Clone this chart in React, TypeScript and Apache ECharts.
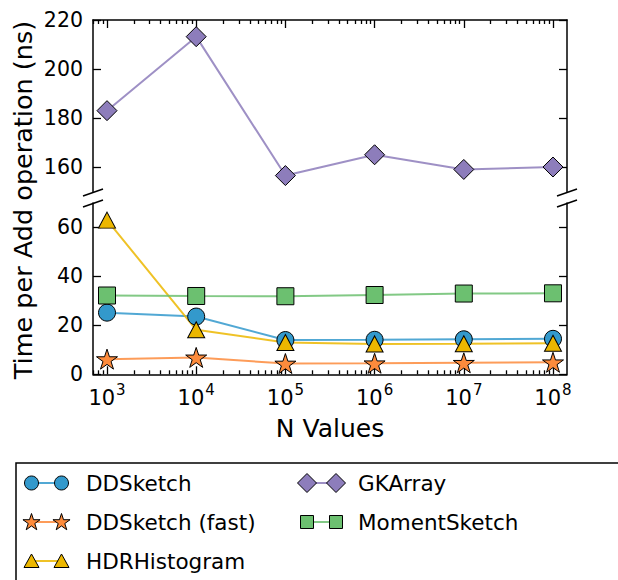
import React, { useEffect, useRef } from "react";
import * as echarts from "echarts";

// ---- data ----
const nValues = [1e3, 1e4, 1e5, 1e6, 1e7, 1e8];
const ddsketch = [25.2, 23.6, 14.0, 14.1, 14.3, 14.5];
const ddsketchFast = [6.2, 6.9, 4.4, 4.5, 4.7, 4.9];
const hdrHistogram = [63, 18.2, 13.0, 12.4, 12.5, 12.7];
const gkArray = [183, 213.2, 156.5, 165, 159, 160];
const momentSketch = [32.2, 32.0, 31.9, 32.4, 33.0, 33.1];
const xTickExponents = [3, 4, 5, 6, 7, 8];
const topYTicks = [160, 180, 200, 220];
const bottomYTicks = [0, 20, 40, 60];
const seriesNames = ["DDSketch", "DDSketch (fast)", "HDRHistogram", "GKArray", "MomentSketch"];

const COLORS = {
  dd: "#3399cc",
  fast: "#fd8b3c",
  hdr: "#ecb700",
  gk: "#8d7dbb",
  moment: "#6cc070",
};

const FONT = "DejaVu Sans";
const X_MIN = 2.843;
const X_MAX = 8.157;

function starPoints(cx: number, cy: number, r: number): number[][] {
  const pts: number[][] = [];
  for (let i = 0; i < 10; i++) {
    const rr = i % 2 === 0 ? r : r * 0.382;
    const a = -Math.PI / 2 + (i * Math.PI) / 5;
    pts.push([cx + rr * Math.cos(a), cy + rr * Math.sin(a)]);
  }
  return pts;
}
const starPath =
  "path://" +
  starPoints(50, 50, 50)
    .map((p, i) => (i === 0 ? "M" : "L") + p[0].toFixed(2) + "," + p[1].toFixed(2))
    .join(" ") +
  " Z";

const minorTicks: number[] = [];
for (let d = 2; d <= 8; d++) {
  for (let k = 2; k <= 9; k++) {
    const v = Math.log10(k * Math.pow(10, d));
    if (v > X_MIN && v < X_MAX) minorTicks.push(v);
  }
}
const majorTicks = xTickExponents.slice();

const toData = (vals: number[]) => nValues.map((n, i) => [Math.log10(n), vals[i]]);

export default function App() {
  const ref = useRef<HTMLDivElement>(null);
  useEffect(() => {
    if (!ref.current) return;
    const chart = echarts.init(ref.current, undefined, { renderer: "svg" });
    const axisLineStyle = { color: "#000", width: 1.5 };
    const tickStyle = { color: "#000", width: 1.3 };

    const mkX = (gridIndex: number, position: string, minor: boolean, labels: boolean) => ({
      type: "value",
      gridIndex,
      position,
      min: X_MIN,
      max: X_MAX,
      axisLine: { show: !minor, lineStyle: axisLineStyle },
      axisTick: {
        show: true,
        inside: true,
        length: minor ? 4 : 8,
        customValues: minor ? minorTicks : majorTicks,
        lineStyle: tickStyle,
      },
      axisLabel: labels
        ? {
            show: true,
            customValues: majorTicks,
            margin: 8,
            color: "#000",
            fontFamily: FONT,
            formatter: (v: number) => `{b|10}{s|${Math.round(v)}}`,
            rich: {
              b: { fontSize: 21, fontFamily: FONT, color: "#000", lineHeight: 26, verticalAlign: "bottom" },
              s: { fontSize: 15, fontFamily: FONT, color: "#000", lineHeight: 26, verticalAlign: "top", padding: [0, 0, 0, 1] },
            },
          }
        : { show: false },
      splitLine: { show: false },
      name: labels && !minor ? "N Values" : "",
      nameLocation: "middle",
      nameGap: 42,
      nameTextStyle: { fontSize: 25, fontFamily: FONT, color: "#000" },
    });

    const mkY = (gridIndex: number, position: string, min: number, max: number, ticks: number[], labels: boolean) => ({
      type: "value",
      gridIndex,
      position,
      min,
      max,
      axisLine: { show: true, lineStyle: axisLineStyle },
      axisTick: { show: true, inside: true, length: 8, customValues: ticks, lineStyle: tickStyle },
      axisLabel: labels
        ? { show: true, customValues: ticks, margin: 10, fontSize: 20.5, fontFamily: FONT, color: "#000" }
        : { show: false },
      splitLine: { show: false },
    });

    const lineSeries = (name: string, vals: number[], color: string, symbol: string, size: any, axis: number, keep = false) => ({
      type: "line",
      name,
      data: toData(vals),
      xAxisIndex: axis,
      yAxisIndex: axis === 0 ? 0 : 2,
      symbol,
      symbolSize: size,
      symbolKeepAspect: keep,
      showAllSymbol: true,
      clip: false,
      lineStyle: { color, width: 2, opacity: 0.85 },
      itemStyle: { color, borderColor: "#000", borderWidth: 1, opacity: 1 },
      emphasis: { disabled: true },
    });

    // legend graphics
    const legendItems: any[] = [];
    legendItems.push({
      type: "rect",
      shape: { x: 16, y: 463, width: 640, height: 160 },
      style: { fill: "#fff", stroke: "#000", lineWidth: 1.5 },
      z: 1,
    });
    const entries = [
      { name: seriesNames[0], color: COLORS.dd, kind: "circle", col: 0, row: 0 },
      { name: seriesNames[1], color: COLORS.fast, kind: "star", col: 0, row: 1 },
      { name: seriesNames[2], color: COLORS.hdr, kind: "triangle", col: 0, row: 2 },
      { name: seriesNames[3], color: COLORS.gk, kind: "diamond", col: 1, row: 0 },
      { name: seriesNames[4], color: COLORS.moment, kind: "rect", col: 1, row: 1 },
    ];
    const rowsY = [483, 522, 561];
    const colsX = [{ m1: 31.5, m2: 61.5, t: 86 }, { m1: 307, m2: 336, t: 358 }];
    const markerEl = (kind: string, cx: number, cy: number, color: string) => {
      const style = { fill: color, stroke: "#000", lineWidth: 1 };
      if (kind === "circle") return { type: "circle", shape: { cx, cy, r: 7 }, style, z: 3 };
      if (kind === "star") return { type: "polygon", shape: { points: starPoints(cx, cy + 0.5, 9) }, style, z: 3 };
      if (kind === "triangle")
        return { type: "polygon", shape: { points: [[cx, cy - 7], [cx - 7.5, cy + 6.5], [cx + 7.5, cy + 6.5]] }, style, z: 3 };
      if (kind === "diamond")
        return { type: "polygon", shape: { points: [[cx, cy - 9.5], [cx + 9.5, cy], [cx, cy + 9.5], [cx - 9.5, cy]] }, style, z: 3 };
      return { type: "rect", shape: { x: cx - 6.5, y: cy - 6.5, width: 13, height: 13 }, style, z: 3 };
    };
    entries.forEach((e) => {
      const c = colsX[e.col];
      const y = rowsY[e.row];
      legendItems.push({
        type: "line",
        shape: { x1: c.m1, y1: y, x2: c.m2, y2: y },
        style: { stroke: e.color, lineWidth: 2, opacity: 0.85 },
        z: 2,
      });
      legendItems.push(markerEl(e.kind, c.m1, y, e.color));
      legendItems.push(markerEl(e.kind, c.m2, y, e.color));
      legendItems.push({
        type: "text",
        x: c.t,
        y,
        style: { text: e.name, font: `21.5px '${FONT}'`, fill: "#000", verticalAlign: "middle", align: "left" },
        z: 3,
      });
    });

    // broken-axis marks
    const breakMarks: any[] = [];
    [93, 567].forEach((ax) => {
      [192.5, 203.5].forEach((y) => {
        breakMarks.push({
          type: "line",
          shape: { x1: ax - 10, y1: y + 3.5, x2: ax + 10, y2: y - 3.5 },
          style: { stroke: "#000", lineWidth: 1.5 },
          z: 5,
        });
      });
    });

    chart.setOption({
      animation: false,
      backgroundColor: "#fff",
      textStyle: { fontFamily: FONT },
      grid: [
        { left: 93, top: 20, width: 474, height: 171.5 },
        { left: 93, top: 203, width: 474, height: 171.3 },
      ],
      xAxis: [
        mkX(0, "top", false, false),
        mkX(0, "top", true, false),
        mkX(1, "bottom", false, true),
        mkX(1, "bottom", true, false),
      ],
      yAxis: [
        mkY(0, "left", 150, 220, topYTicks, true),
        mkY(0, "right", 150, 220, topYTicks, false),
        mkY(1, "left", 0, 70, bottomYTicks, true),
        mkY(1, "right", 0, 70, bottomYTicks, false),
      ],
      series: [
        lineSeries(seriesNames[0], ddsketch, COLORS.dd, "circle", 17, 2),
        lineSeries(seriesNames[1], ddsketchFast, COLORS.fast, starPath, 21, 2, true),
        lineSeries(seriesNames[2], hdrHistogram, COLORS.hdr, "triangle", [17, 16], 2),
        lineSeries(seriesNames[3], gkArray, COLORS.gk, "diamond", [20, 20], 0),
        lineSeries(seriesNames[4], momentSketch, COLORS.moment, "rect", 17, 2),
      ],
      graphic: [
        {
          type: "text",
          x: 23,
          y: 200,
          rotation: Math.PI / 2,
          style: {
            text: "Time per Add operation (ns)",
            font: `25.5px '${FONT}'`,
            fill: "#000",
            align: "center",
            verticalAlign: "middle",
          },
        },
        ...breakMarks,
        ...legendItems,
      ],
    });
    return () => chart.dispose();
  }, []);
  return (
    <div
      ref={ref}
      style={{ position: "fixed", left: 0, top: 0, width: 618, height: 580, background: "#fff" }}
    />
  );
}
